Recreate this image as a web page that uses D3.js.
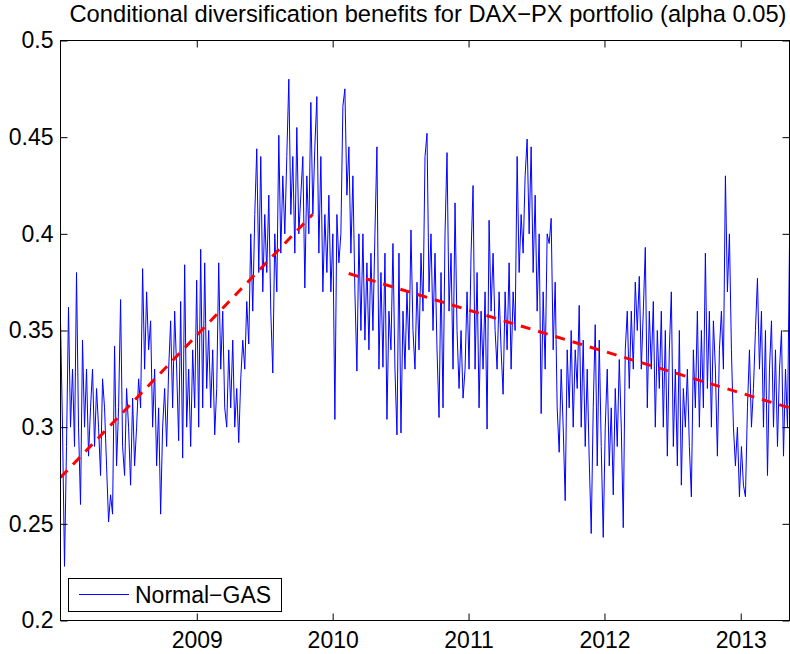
<!DOCTYPE html>
<html>
<head>
<meta charset="utf-8">
<script src="https://cdn.jsdelivr.net/npm/d3@7"></script>
<style>
  body { margin: 0; background: #fff; }
  svg text { font-family: "Liberation Sans", Arial, Helvetica, sans-serif; fill: #000; }
</style>
</head>
<body>
<script>
const title = 'Conditional diversification benefits for DAX\u2212PX portfolio (alpha 0.05)';
const seriesName = 'Normal\u2212GAS';

// sample period of the series (evenly spaced observations)
const startDate = new Date(2008, 0, 1);
const endDate = new Date(2013, 4, 12);

// diversification benefit left to right
const benefit = [
  0.355, 0.300, 0.228, 0.290, 0.362, 0.300, 0.330, 0.290, 0.380, 0.300,
  0.260, 0.345, 0.300, 0.330, 0.285, 0.310, 0.330, 0.290, 0.320, 0.300,
  0.275, 0.325, 0.310, 0.280, 0.251, 0.265, 0.255, 0.342, 0.280, 0.310,
  0.366, 0.290, 0.275, 0.320, 0.300, 0.270, 0.315, 0.280, 0.300, 0.325,
  0.310, 0.382, 0.330, 0.370, 0.340, 0.355, 0.300, 0.330, 0.280, 0.310,
  0.255, 0.300, 0.320, 0.290, 0.330, 0.355, 0.310, 0.360, 0.330, 0.293,
  0.365, 0.284, 0.384, 0.300, 0.330, 0.290, 0.340, 0.310, 0.376, 0.300,
  0.392, 0.310, 0.385, 0.320, 0.350, 0.310, 0.340, 0.296, 0.320, 0.385,
  0.330, 0.360, 0.310, 0.300, 0.340, 0.310, 0.345, 0.300, 0.320, 0.292,
  0.325, 0.345, 0.330, 0.365, 0.343, 0.400, 0.360, 0.410, 0.444, 0.380,
  0.440, 0.370, 0.410, 0.380, 0.420, 0.360, 0.328, 0.400, 0.370, 0.451,
  0.390, 0.430, 0.400, 0.440, 0.480, 0.410, 0.440, 0.390, 0.455, 0.400,
  0.420, 0.440, 0.372, 0.430, 0.400, 0.468, 0.410, 0.445, 0.471, 0.390,
  0.440, 0.370, 0.410, 0.380, 0.420, 0.370, 0.400, 0.304, 0.410, 0.385,
  0.400, 0.466, 0.475, 0.420, 0.445, 0.390, 0.430, 0.370, 0.329, 0.400,
  0.350, 0.400, 0.345, 0.385, 0.340, 0.390, 0.350, 0.400, 0.445, 0.330,
  0.380, 0.331, 0.390, 0.304, 0.360, 0.340, 0.395, 0.330, 0.296, 0.390,
  0.297, 0.360, 0.330, 0.370, 0.340, 0.402, 0.350, 0.330, 0.375, 0.340,
  0.390, 0.360, 0.440, 0.452, 0.370, 0.400, 0.350, 0.390, 0.340, 0.305,
  0.380, 0.310, 0.400, 0.442, 0.360, 0.390, 0.330, 0.416, 0.350, 0.320,
  0.350, 0.315, 0.330, 0.370, 0.330, 0.390, 0.425, 0.330, 0.380, 0.310,
  0.360, 0.330, 0.370, 0.299, 0.407, 0.360, 0.390, 0.350, 0.330, 0.370,
  0.340, 0.317, 0.370, 0.340, 0.385, 0.330, 0.370, 0.350, 0.440, 0.380,
  0.410, 0.390, 0.430, 0.449, 0.400, 0.445, 0.380, 0.420, 0.360, 0.400,
  0.307, 0.370, 0.330, 0.400, 0.395, 0.408, 0.340, 0.375, 0.310, 0.287,
  0.330, 0.300, 0.262, 0.340, 0.310, 0.350, 0.300, 0.340, 0.320, 0.363,
  0.300, 0.345, 0.290, 0.330, 0.283, 0.245, 0.310, 0.353, 0.280, 0.345,
  0.290, 0.243, 0.300, 0.330, 0.280, 0.310, 0.265, 0.320, 0.290, 0.335,
  0.300, 0.248, 0.340, 0.360, 0.320, 0.360, 0.330, 0.375, 0.350, 0.378,
  0.330, 0.360, 0.393, 0.310, 0.360, 0.330, 0.365, 0.300, 0.350, 0.320,
  0.360, 0.300, 0.350, 0.285, 0.340, 0.370, 0.290, 0.330, 0.280, 0.350,
  0.270, 0.320, 0.300, 0.330, 0.290, 0.264, 0.340, 0.310, 0.360, 0.300,
  0.350, 0.310, 0.390, 0.320, 0.360, 0.300, 0.355, 0.330, 0.285, 0.340,
  0.360, 0.330, 0.430, 0.370, 0.400, 0.340, 0.300, 0.280, 0.300, 0.264,
  0.290, 0.270, 0.264, 0.310, 0.340, 0.300, 0.320, 0.350, 0.377, 0.330,
  0.360, 0.300, 0.350, 0.275, 0.330, 0.355, 0.300, 0.340, 0.290, 0.330,
  0.350, 0.285, 0.330, 0.300, 0.395
];

// fitted trend, two regimes
const trendEarly = [
  { date: new Date(2008, 0, 1), value: 0.274 },
  { date: new Date(2009, 10, 8), value: 0.410 }
];
const trendLate = [
  { date: new Date(2010, 1, 13), value: 0.3795 },
  { date: new Date(2013, 4, 12), value: 0.310 }
];

const yTicks = [0.2, 0.25, 0.3, 0.35, 0.4, 0.45, 0.5];
const xTickYears = [2009, 2010, 2011, 2012, 2013];

const width = 790;
const height = 654;
const plotLeft = 60.5, plotRight = 789.5, plotTop = 40.5, plotBottom = 620.5;
const fontSize = 23;

const step = (endDate - startDate) / (benefit.length - 1);
const points = benefit.map((v, i) => ({ date: new Date(+startDate + i * step), value: v }));

const x = d3.scaleTime()
  .domain([startDate, endDate])
  .range([plotLeft, plotRight]);

const y = d3.scaleLinear()
  .domain([0.2, 0.5])
  .range([plotBottom, plotTop]);

const svg = d3.select('body').append('svg')
  .attr('width', width)
  .attr('height', height);

svg.append('defs').append('clipPath')
  .attr('id', 'plot-clip')
  .append('rect')
  .attr('x', plotLeft).attr('y', plotTop)
  .attr('width', plotRight - plotLeft).attr('height', plotBottom - plotTop);

const line = d3.line()
  .x(d => x(d.date))
  .y(d => y(d.value));

const plot = svg.append('g').attr('clip-path', 'url(#plot-clip)');

plot.append('path')
  .datum(points)
  .attr('fill', 'none')
  .attr('stroke', '#0000ff')
  .attr('stroke-width', 1)
  .attr('d', line);

[trendEarly, trendLate].forEach(seg => {
  plot.append('path')
    .datum(seg)
    .attr('fill', 'none')
    .attr('stroke', '#ff0000')
    .attr('stroke-width', 3)
    .attr('stroke-dasharray', '10,8')
    .attr('d', line);
});

// axes: ticks point inwards on all four sides
const yearDates = xTickYears.map(yr => new Date(yr, 0, 1));

const styleAxis = g => {
  g.select('.domain').remove();
  g.selectAll('line').attr('stroke', '#000');
  g.selectAll('text').attr('font-size', fontSize);
};

svg.append('g')
  .attr('transform', `translate(${plotLeft},0)`)
  .call(d3.axisLeft(y).tickValues(yTicks).tickFormat(d3.format('')).tickSize(-7).tickPadding(7))
  .call(styleAxis);

svg.append('g')
  .attr('transform', `translate(${plotRight},0)`)
  .call(d3.axisRight(y).tickValues(yTicks).tickFormat('').tickSize(-7))
  .call(styleAxis);

svg.append('g')
  .attr('transform', `translate(0,${plotBottom})`)
  .call(d3.axisBottom(x).tickValues(yearDates).tickFormat(d3.timeFormat('%Y')).tickSize(-7).tickPadding(11))
  .call(styleAxis);

svg.append('g')
  .attr('transform', `translate(0,${plotTop})`)
  .call(d3.axisTop(x).tickValues(yearDates).tickFormat('').tickSize(-7))
  .call(styleAxis);

svg.append('rect')
  .attr('x', plotLeft).attr('y', plotTop)
  .attr('width', plotRight - plotLeft).attr('height', plotBottom - plotTop)
  .attr('fill', 'none')
  .attr('stroke', '#000')
  .attr('stroke-width', 1);

svg.append('text')
  .attr('x', (plotLeft + plotRight) / 2 + 3)
  .attr('y', 22)
  .attr('text-anchor', 'middle')
  .attr('font-size', 23.7)
  .text(title);

// legend
const legend = svg.append('g').attr('transform', 'translate(68.5,578.5)');
legend.append('rect')
  .attr('width', 213).attr('height', 33)
  .attr('fill', '#fff')
  .attr('stroke', '#000');
legend.append('line')
  .attr('x1', 10.5).attr('x2', 60.5)
  .attr('y1', 16).attr('y2', 16)
  .attr('stroke', '#0000ff');
legend.append('text')
  .attr('x', 66.5).attr('y', 24.5)
  .attr('font-size', fontSize)
  .text(seriesName);
</script>
</body>
</html>
